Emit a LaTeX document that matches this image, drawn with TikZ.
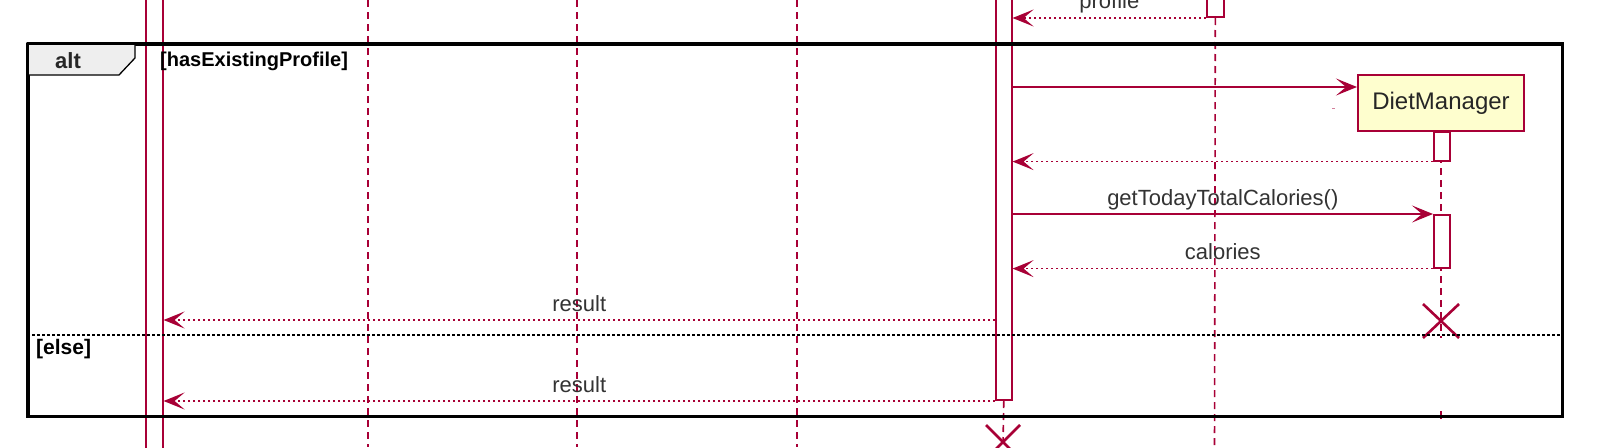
\documentclass[tikz,border=0pt]{standalone}
\usepackage{fontspec}
\setmainfont{Liberation Sans}
\usetikzlibrary{arrows.meta}
\definecolor{puml}{HTML}{A80036}
\definecolor{pfill}{HTML}{FEFECE}
\definecolor{tabfill}{HTML}{EEEEEE}
\tikzset{
  lifeline/.style={draw=puml, line width=1.6pt, dash pattern=on 7pt off 5pt},
  actbar/.style={draw=puml, fill=white, line width=1.6pt, inner sep=0pt},
  msg/.style={draw=puml, line width=1.6pt, -{Stealth[length=21pt,width=17pt,inset=10pt]}},
  ret/.style={msg, dash pattern=on 2.5pt off 2.5pt},
  mlabel/.style={font=\fontsize{22}{24}\selectfont, text=black!80, inner sep=0pt, anchor=base, yshift=9pt},
  destroy/.style={draw=puml, line width=2.6pt},
  guard/.style={font=\bfseries\fontsize{20}{22}\selectfont, inner sep=0pt, anchor=west}
}
\begin{document}
\begin{tikzpicture}[x=1pt,y=-1pt]
\useasboundingbox (0,0) rectangle (1600,447);
\clip (0,0) rectangle (1600,447);
\fill[white] (0,0) rectangle (1600,447);

% row coordinates
\coordinate (y1) at (0,87);
\coordinate (y5) at (0,320);

% plain lifelines
\draw[lifeline] (368,0) -- (368,447);
\draw[lifeline] (577,0) -- (577,447);
\draw[lifeline] (797,0) -- (797,447);

% caller activation
\node[actbar, minimum width=17pt, minimum height=470pt, anchor=north west] (caller) at (145,-10) {};

% controller activation
\node[actbar, minimum width=16pt, minimum height=411pt, anchor=south west] (ctrl) at (995,401) {};
\coordinate (ctrlX) at (1003,442);
\draw[lifeline] (ctrl.south) -- (ctrlX);
\draw[destroy] ([shift={(-17,-17)}]ctrlX) -- ([shift={(17,17)}]ctrlX)
               ([shift={(17,-17)}]ctrlX) -- ([shift={(-17,17)}]ctrlX);

% profile provider
\node[actbar, minimum width=17pt, minimum height=30pt, anchor=south west] (prov) at (1206,18) {};
\coordinate (provEnd) at (1214.5,447);
\draw[lifeline] (prov.south) -- (provEnd);

% DietManager
\node[draw=puml, fill=pfill, line width=2pt, minimum width=166pt, minimum height=56pt,
      inner sep=0pt, font=\fontsize{24}{26}\selectfont, text=black!85] (dm) at (1441,103) {DietManager};
\coordinate (dmX) at (1441,321);
\draw[lifeline] (dm.south) -- ([yshift=-17]dmX);
\node[actbar, minimum width=16pt, minimum height=29pt, anchor=north west] (act1) at (1433,131) {};
\node[actbar, minimum width=16pt, minimum height=53pt, anchor=north west] (act2) at (1433,214) {};
\draw[destroy] ([shift={(-18,-17)}]dmX) -- ([shift={(18,17)}]dmX)
               ([shift={(18,-17)}]dmX) -- ([shift={(-18,17)}]dmX);
\coordinate (tickA) at (1441,411);
\coordinate (tickB) at (1441,419);
\draw[puml, line width=1.6pt] (tickA) -- (tickB);
\coordinate (strayA) at (1332,108);
\coordinate (strayB) at (1335,108);
\draw[puml!50, line width=1pt] (strayA) -- (strayB);

% alt frame
\node[draw=black, line width=3pt, minimum width=1534pt, minimum height=372pt, inner sep=0pt, anchor=north west] (frame) at (27,43) {};
\draw[black, line width=1.3pt, fill=tabfill] (27,43) -- (135,43) -- (135,58) -- (119,75) -- (27,75) -- cycle;
\draw[black, line width=3pt] (frame.north west) -- (frame.north east);
\draw[black, line width=3pt] (frame.north west) -- (frame.south west);
\node[font=\bfseries\fontsize{22}{24}\selectfont, inner sep=0pt, text=black!85] (alt) at (68,61) {alt};
\node[guard] (g1) at (160,61) {[hasExistingProfile]};
\coordinate (sepL) at (27,335);
\coordinate (sepR) at (1561,335);
\draw[black, line width=1.3pt, dash pattern=on 2.5pt off 2.5pt] (sepL) -- (sepR);
\node[guard, font=\bfseries\fontsize{21}{23}\selectfont] (g2) at (36,349) {[else]};

% messages
\draw[ret] (prov.south west) -- node[mlabel, midway] {profile} (ctrl.east |- prov.south west);
\draw[msg] (ctrl.east |- y1) -- (dm.west |- y1);
\draw[ret] (act1.south west) -- (ctrl.east |- act1.south west);
\draw[msg] (ctrl.east |- act2.north west) -- node[mlabel, midway] {getTodayTotalCalories()} (act2.north west);
\draw[ret] (act2.south west) -- node[mlabel, midway] {calories} (ctrl.east |- act2.south west);
\draw[ret] (ctrl.west |- y5) -- node[mlabel, midway] {result} (caller.east |- y5);
\draw[ret] (ctrl.south west) -- node[mlabel, midway] {result} (caller.east |- ctrl.south west);
\end{tikzpicture}
\end{document}
